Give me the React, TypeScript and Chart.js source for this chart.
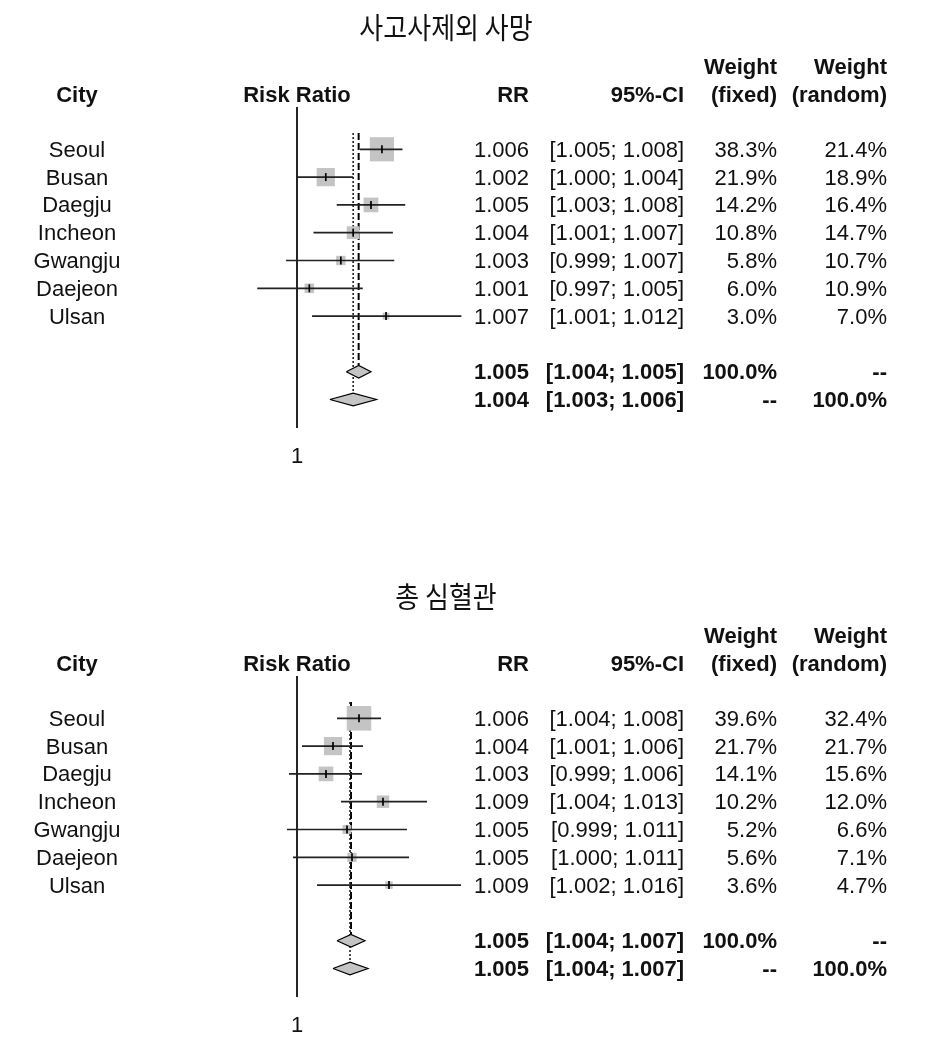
import React, { useEffect, useRef } from 'react';
import { Chart, registerables } from 'chart.js';

Chart.register(...registerables);

// ---------------- DATA ----------------
const cities = ['Seoul', 'Busan', 'Daegju', 'Incheon', 'Gwangju', 'Daejeon', 'Ulsan'];
const headerCity = 'City';
const headerPlot = 'Risk Ratio';
const headerRR = 'RR';
const headerCI = '95%-CI';
const headerWeightTop = ['Weight', 'Weight'];
const headerWeightBottom = ['(fixed)', '(random)'];
const refTickLabel = '1';
const refValue = 1;

// Panel A: 사고사제외 사망
const titleA = '사고사제외 사망';
const estA = [1.0062, 1.0021, 1.0054, 1.0041, 1.0032, 1.0009, 1.0065];
const loA = [1.0046, 1.0, 1.0029, 1.0012, 0.9992, 0.9971, 1.0011];
const hiA = [1.0077, 1.0041, 1.0079, 1.007, 1.0071, 1.0048, 1.012];
const wFixedA = [38.3, 21.9, 14.2, 10.8, 5.8, 6.0, 3.0];
const wRandomA = [21.4, 18.9, 16.4, 14.7, 10.7, 10.9, 7.0];
const rrTextA = ['1.006', '1.002', '1.005', '1.004', '1.003', '1.001', '1.007'];
const ciTextA = ['[1.005; 1.008]', '[1.000; 1.004]', '[1.003; 1.008]', '[1.001; 1.007]', '[0.999; 1.007]', '[0.997; 1.005]', '[1.001; 1.012]'];
const fixedA = [1.0045, 1.0036, 1.0054]; // est, lo, hi
const randomA = [1.0041, 1.0024, 1.0058];
const fixedTextA = ['1.005', '[1.004; 1.005]', '100.0%', '--'];
const randomTextA = ['1.004', '[1.003; 1.006]', '--', '100.0%'];

// Panel B: 총 심혈관
const titleB = '총 심혈관';
const estB = [1.0062, 1.0036, 1.0029, 1.0086, 1.005, 1.0055, 1.0092];
const loB = [1.004, 1.0005, 0.9992, 1.0044, 0.999, 0.9996, 1.002];
const hiB = [1.0084, 1.0066, 1.0065, 1.013, 1.011, 1.0112, 1.0164];
const wFixedB = [39.6, 21.7, 14.1, 10.2, 5.2, 5.6, 3.6];
const wRandomB = [32.4, 21.7, 15.6, 12.0, 6.6, 7.1, 4.7];
const rrTextB = ['1.006', '1.004', '1.003', '1.009', '1.005', '1.005', '1.009'];
const ciTextB = ['[1.004; 1.008]', '[1.001; 1.006]', '[0.999; 1.006]', '[1.004; 1.013]', '[0.999; 1.011]', '[1.000; 1.011]', '[1.002; 1.016]'];
const fixedB = [1.0054, 1.004, 1.0068];
const randomB = [1.0053, 1.0036, 1.0071];
const fixedTextB = ['1.005', '[1.004; 1.007]', '100.0%', '--'];
const randomTextB = ['1.005', '[1.004; 1.007]', '--', '100.0%'];

// ---------------- LAYOUT / STYLE ----------------
const W = 948;
const H = 492;
const PANEL_B_TOP = 569;
const PLOT_L = 230;
const PLOT_R = 470;
const PLOT_T = 107;
const PLOT_B = 428;
const REF_X = 297;
const ROW0_Y = 149.3;
const ROW_H = 27.8;
const REF_LINE_TOP_Y = 133;
const DIAMOND_HALF_PX = 6.3;
const SQUARE_K = 3.9;
const FONT = '"Liberation Sans", Arial, Helvetica, sans-serif';
const KFONT = '"Noto Sans CJK KR", sans-serif';
const TITLE_X = 446;
const TITLE_Y = 28;
const TITLE_STRETCH_Y = 1.12;
const HEAD_Y1 = 68;
const HEAD_Y2 = 96;
const COL_CITY = 77;
const COL_RR = 529;
const COL_CI = 684;
const COL_WF = 777;
const COL_WR = 887;
const TICK_LABEL_Y = 457;
const TEXT_DY = 1.5;
const ROW_FONT_PX = 22;

type Panel = {
  title: string;
  est: number[];
  lo: number[];
  hi: number[];
  wFixed: number[];
  wRandom: number[];
  rrText: string[];
  ciText: string[];
  fixed: number[];
  random: number[];
  fixedText: string[];
  randomText: string[];
  pxPerMilli: number;
};

const panelA: Panel = {
  title: titleA, est: estA, lo: loA, hi: hiA, wFixed: wFixedA, wRandom: wRandomA,
  rrText: rrTextA, ciText: ciTextA, fixed: fixedA, random: randomA,
  fixedText: fixedTextA, randomText: randomTextA, pxPerMilli: 13.7,
};
const panelB: Panel = {
  title: titleB, est: estB, lo: loB, hi: hiB, wFixed: wFixedB, wRandom: wRandomB,
  rrText: rrTextB, ciText: ciTextB, fixed: fixedB, random: randomB,
  fixedText: fixedTextB, randomText: randomTextB, pxPerMilli: 10.0,
};

const FIXED_ROW = cities.length + 1; // 8
const RANDOM_ROW = cities.length + 2; // 9

function makeTextPlugin(p: Panel) {
  return {
    id: 'forestText',
    afterDraw(chart: any) {
      const ctx: CanvasRenderingContext2D = chart.ctx;
      const xs = chart.scales.x;
      const ys = chart.scales.y;
      const refPx = xs.getPixelForValue(refValue);
      ctx.save();
      ctx.fillStyle = '#111';
      ctx.textBaseline = 'middle';

      // title (slightly tall glyphs, as in the reference)
      ctx.save();
      ctx.translate(TITLE_X, TITLE_Y);
      ctx.scale(1, TITLE_STRETCH_Y);
      ctx.font = `26px ${KFONT}`;
      ctx.textAlign = 'center';
      ctx.fillText(p.title, 0, 0);
      ctx.restore();

      // headers
      ctx.font = `bold ${ROW_FONT_PX}px ${FONT}`;
      ctx.textAlign = 'center';
      ctx.fillText(headerCity, COL_CITY, HEAD_Y2);
      ctx.fillText(headerPlot, refPx, HEAD_Y2);
      ctx.textAlign = 'right';
      ctx.fillText(headerRR, COL_RR, HEAD_Y2);
      ctx.fillText(headerCI, COL_CI, HEAD_Y2);
      ctx.fillText(headerWeightTop[0], COL_WF, HEAD_Y1);
      ctx.fillText(headerWeightTop[1], COL_WR, HEAD_Y1);
      ctx.fillText(headerWeightBottom[0], COL_WF, HEAD_Y2);
      ctx.fillText(headerWeightBottom[1], COL_WR, HEAD_Y2);

      // study rows
      ctx.font = `${ROW_FONT_PX}px ${FONT}`;
      cities.forEach((c, i) => {
        const y = ys.getPixelForValue(i) + TEXT_DY;
        ctx.textAlign = 'center';
        ctx.fillText(c, COL_CITY, y);
        ctx.textAlign = 'right';
        ctx.fillText(p.rrText[i], COL_RR, y);
        ctx.fillText(p.ciText[i], COL_CI, y);
        ctx.fillText(p.wFixed[i].toFixed(1) + '%', COL_WF, y);
        ctx.fillText(p.wRandom[i].toFixed(1) + '%', COL_WR, y);
      });

      // summary rows
      ctx.font = `bold ${ROW_FONT_PX}px ${FONT}`;
      ctx.textAlign = 'right';
      const rows: [number, string[]][] = [[FIXED_ROW, p.fixedText], [RANDOM_ROW, p.randomText]];
      rows.forEach(([r, t]) => {
        const y = ys.getPixelForValue(r) + TEXT_DY;
        ctx.fillText(t[0], COL_RR, y);
        ctx.fillText(t[1], COL_CI, y);
        ctx.fillText(t[2], COL_WF, y);
        ctx.fillText(t[3], COL_WR, y);
      });

      // reference tick label
      ctx.font = `${ROW_FONT_PX}px ${FONT}`;
      ctx.textAlign = 'center';
      ctx.fillText(refTickLabel, refPx, TICK_LABEL_Y);
      ctx.restore();
    },
  };
}

function buildConfig(p: Panel): any {
  const xMin = refValue - (REF_X - PLOT_L) / (p.pxPerMilli * 1000);
  const xMax = refValue + (PLOT_R - REF_X) / (p.pxPerMilli * 1000);
  const yMin = -(ROW0_Y - PLOT_T) / ROW_H;
  const yMax = (PLOT_B - ROW0_Y) / ROW_H;
  const refTopRow = (REF_LINE_TOP_Y - ROW0_Y) / ROW_H;
  const dh = DIAMOND_HALF_PX / ROW_H;

  const datasets: any[] = [];
  // null line
  datasets.push({
    type: 'line', order: 30,
    data: [{ x: refValue, y: yMin }, { x: refValue, y: yMax }],
    borderColor: '#000', borderWidth: 1.7, pointRadius: 0, fill: false,
  });
  // fixed effect dashed line
  datasets.push({
    type: 'line', order: 29,
    data: [{ x: p.fixed[0], y: refTopRow }, { x: p.fixed[0], y: FIXED_ROW - dh }],
    borderColor: '#000', borderWidth: 2, borderDash: [7, 3], pointRadius: 0, fill: false,
  });
  // random effect dotted line
  datasets.push({
    type: 'line', order: 28,
    data: [{ x: p.random[0], y: refTopRow }, { x: p.random[0], y: RANDOM_ROW - dh }],
    borderColor: '#222', borderWidth: 1.6, borderDash: [2, 2], pointRadius: 0, fill: false,
  });
  // squares
  datasets.push({
    type: 'scatter', order: 20,
    data: p.est.map((e, i) => ({ x: e, y: i })),
    pointStyle: 'rect',
    pointRadius: p.wFixed.map((w) => (SQUARE_K * Math.sqrt(w)) / Math.SQRT2),
    backgroundColor: '#c4c4c4', borderWidth: 0, borderColor: 'rgba(0,0,0,0)',
  });
  // whiskers
  p.est.forEach((_, i) => {
    datasets.push({
      type: 'line', order: 10,
      data: [{ x: p.lo[i], y: i }, { x: p.hi[i], y: i }],
      borderColor: '#222', borderWidth: 1.7, pointRadius: 0, fill: false,
    });
  });
  // centre ticks
  datasets.push({
    type: 'scatter', order: 5,
    data: p.est.map((e, i) => ({ x: e, y: i })),
    pointStyle: 'line', pointRotation: 90, pointRadius: 4,
    borderColor: '#000', borderWidth: 1.7,
  });
  // diamonds
  const diamond = (s: number[], r: number) => [
    { x: s[1], y: r }, { x: s[0], y: r - dh }, { x: s[2], y: r }, { x: s[0], y: r + dh }, { x: s[1], y: r },
  ];
  datasets.push({
    type: 'line', order: 2,
    data: diamond(p.fixed, FIXED_ROW),
    borderColor: '#000', borderWidth: 1.2, backgroundColor: '#c4c4c4', fill: 'shape', pointRadius: 0,
  });
  datasets.push({
    type: 'line', order: 1,
    data: diamond(p.random, RANDOM_ROW),
    borderColor: '#000', borderWidth: 1.2, backgroundColor: '#c4c4c4', fill: 'shape', pointRadius: 0,
  });

  return {
    type: 'scatter',
    data: { datasets },
    options: {
      responsive: false,
      maintainAspectRatio: false,
      animation: false,
      events: [],
      layout: { padding: { left: PLOT_L, right: W - PLOT_R, top: PLOT_T, bottom: H - PLOT_B } },
      plugins: { legend: { display: false }, tooltip: { enabled: false }, title: { display: false } },
      scales: {
        x: { type: 'linear', display: false, min: xMin, max: xMax },
        y: { type: 'linear', display: false, reverse: true, min: yMin, max: yMax },
      },
      elements: { line: { tension: 0 } },
    },
    plugins: [makeTextPlugin(p)],
  };
}

function ForestPanel({ panel, top }: { panel: Panel; top: number }) {
  const ref = useRef<HTMLCanvasElement>(null);
  useEffect(() => {
    if (!ref.current) return;
    const chart = new Chart(ref.current, buildConfig(panel));
    return () => chart.destroy();
  }, [panel]);
  return (
    <canvas
      ref={ref}
      width={W}
      height={H}
      style={{ position: 'absolute', left: 0, top, width: W, height: H, display: 'block' }}
    />
  );
}

export default function App() {
  return (
    <div style={{ position: 'absolute', left: 0, top: 0, width: W, height: 1061, background: '#fff' }}>
      <ForestPanel panel={panelA} top={0} />
      <ForestPanel panel={panelB} top={PANEL_B_TOP} />
    </div>
  );
}
